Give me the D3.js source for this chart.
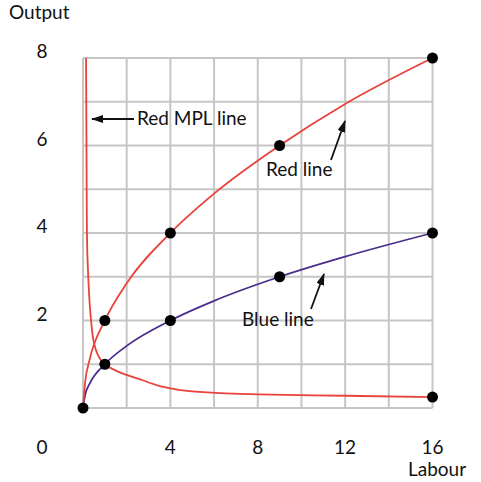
<!DOCTYPE html>
<html>
<head>
<meta charset="utf-8">
<script src="https://cdn.jsdelivr.net/npm/d3@7"></script>
<style>
  body { margin: 0; background: #fff; }
  text { font-family: Lato, "Open Sans", sans-serif; fill: #111; }
</style>
</head>
<body>
<div id="chart"></div>
<script>
// values
const redX = [0, 0.1, 0.3, 1, 2, 4, 6, 9, 12, 16];
const redY = [0, 0.6, 1.1, 2, 2.85, 4, 4.9, 6, 6.95, 8];
const blueX = [0, 0.1, 0.3, 1, 2, 4, 6, 9, 12, 16];
const blueY = [0, 0.3, 0.55, 1, 1.42, 2, 2.45, 3, 3.46, 4];
const mplX = [0.14, 0.16, 0.18, 0.24, 0.37, 0.5, 0.65, 1, 1.6, 2.7, 4, 5, 8, 12, 16];
const mplY = [8, 6, 4, 3, 2, 1.5, 1.25, 1, 0.83, 0.64, 0.45, 0.38, 0.31, 0.28, 0.25];
const dotsX = [0, 1, 4, 9, 16, 1, 4, 9, 16, 16];
const dotsY = [0, 2, 4, 6, 8, 1, 2, 3, 4, 0.25];
const xTicks = [4, 8, 12, 16];
const yTicks = [2, 4, 6, 8];

const w = 481, h = 482;
const margin = {left: 83, right: 48.5, top: 58, bottom: 74};
const fs = '19px';

const x = d3.scaleLinear().domain([0, 16]).range([margin.left, w - margin.right]);
const y = d3.scaleLinear().domain([0, 8]).range([h - margin.bottom, margin.top]);

const svg = d3.select('#chart')
  .append('svg')
  .attr('width', w)
  .attr('height', h);

svg.append('defs').append('marker')
  .attr('id', 'head')
  .attr('viewBox', '0 0 12 8')
  .attr('refX', 11)
  .attr('refY', 4)
  .attr('markerWidth', 12)
  .attr('markerHeight', 8)
  .attr('markerUnits', 'userSpaceOnUse')
  .attr('orient', 'auto')
  .append('path')
  .attr('d', 'M0,0 L12,4 L0,8 Z')
  .attr('fill', '#111');

// grid
const grid = svg.append('g').attr('id', 'grid')
  .attr('stroke', '#c6c6c6')
  .attr('stroke-width', 2);
grid.selectAll('line.v')
  .data(d3.range(0, 17, 2))
  .enter().append('line')
  .attr('x1', d => x(d)).attr('x2', d => x(d))
  .attr('y1', y(0)).attr('y2', y(8));
grid.selectAll('line.h')
  .data(d3.range(0, 9, 1))
  .enter().append('line')
  .attr('y1', d => y(d)).attr('y2', d => y(d))
  .attr('x1', x(0)).attr('x2', x(16));

// curves
const line = d3.line()
  .x(d => x(d[0]))
  .y(d => y(d[1]))
  .curve(d3.curveMonotoneX);

svg.append('path')
  .datum(d3.zip(mplX, mplY))
  .attr('d', d3.line().x(d => x(d[0])).y(d => y(d[1])).curve(d3.curveMonotoneY))
  .attr('fill', 'none')
  .attr('stroke', '#e8423b')
  .attr('stroke-width', 1.8);

svg.append('path')
  .datum(d3.zip(blueX, blueY))
  .attr('d', line)
  .attr('fill', 'none')
  .attr('stroke', '#4a2d8c')
  .attr('stroke-width', 1.8);

svg.append('path')
  .datum(d3.zip(redX, redY))
  .attr('d', line)
  .attr('fill', 'none')
  .attr('stroke', '#e8423b')
  .attr('stroke-width', 1.8);

// dots
svg.selectAll('circle.dot')
  .data(d3.zip(dotsX, dotsY))
  .enter().append('circle')
  .attr('class', 'dot')
  .attr('cx', d => x(d[0]))
  .attr('cy', d => y(d[1]))
  .attr('r', 5.5)
  .attr('fill', '#000');

// tick labels
svg.selectAll('text.xt')
  .data(xTicks)
  .enter().append('text')
  .attr('x', d => x(d))
  .attr('y', 454)
  .attr('text-anchor', 'middle')
  .style('font-size', fs)
  .text(d => d);
svg.selectAll('text.yt')
  .data(yTicks)
  .enter().append('text')
  .attr('x', 42)
  .attr('y', d => y(d))
  .attr('text-anchor', 'middle')
  .style('font-size', fs)
  .text(d => d);
svg.append('text').attr('x', 42).attr('y', 454)
  .attr('text-anchor', 'middle').style('font-size', fs).text('0');

svg.append('text').attr('x', 9).attr('y', 19)
  .style('font-size', fs).text('Output');
svg.append('text').attr('x', 437).attr('y', 476)
  .attr('text-anchor', 'middle').style('font-size', fs).text('Labour');

// annotations
const notes = [
  {label: 'Red MPL line', tx: 137, ty: 125, x1: 134, y1: 119, x2: 92, y2: 119},
  {label: 'Red line', tx: 266, ty: 176, x1: 331, y1: 160, x2: 345, y2: 121},
  {label: 'Blue line', tx: 242, ty: 326, x1: 311, y1: 309, x2: 324, y2: 274}
];
notes.forEach(n => {
  svg.append('line')
    .attr('x1', n.x1).attr('y1', n.y1)
    .attr('x2', n.x2).attr('y2', n.y2)
    .attr('stroke', '#111')
    .attr('stroke-width', 1.8)
    .attr('marker-end', 'url(#head)');
  svg.append('text')
    .attr('x', n.tx).attr('y', n.ty)
    .style('font-size', fs)
    .text(n.label);
});
</script>
</body>
</html>
